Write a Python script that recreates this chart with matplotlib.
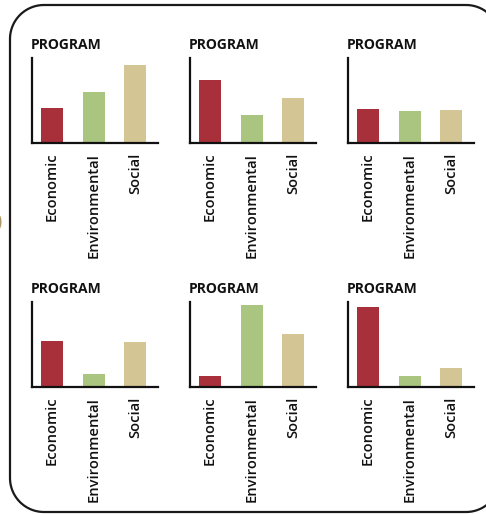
import matplotlib
matplotlib.use("Agg")
import numpy as np
import matplotlib.pyplot as plt
from matplotlib.patches import PathPatch, Ellipse
from matplotlib.path import Path

categories = ["Economic", "Environmental", "Social"]
panel_titles = ["PROGRAM"] * 6
values = [
    [41, 60, 92],
    [74, 33, 53],
    [40, 38, 39],
    [54, 15, 53],
    [13, 96, 62],
    [94, 13, 22],
]
colors = ["#A8303A", "#A9C57F", "#D4C594"]

W, H = 486, 514
fig = plt.figure(figsize=(W / 100, H / 100), dpi=100)
fig.patch.set_facecolor("white")

FONT = ["Open Sans", "DejaVu Sans"]


def rounded_rect(x0, y0, x1, y1, r, n=30):
    # pixel coords, y downward
    pts = []
    corners = [((x1 - r, y0 + r), -90, 0), ((x1 - r, y1 - r), 0, 90),
               ((x0 + r, y1 - r), 90, 180), ((x0 + r, y0 + r), 180, 270)]
    for (cx, cy), a0, a1 in corners:
        t = np.radians(np.linspace(a0, a1, n))
        pts.extend(zip(cx + r * np.cos(t), cy + r * np.sin(t)))
    pts.append(pts[0])
    pts = np.array(pts)
    pts[:, 0] /= W
    pts[:, 1] = 1 - pts[:, 1] / H
    return Path(pts)


border = PathPatch(rounded_rect(10, 5, 500, 512, 34), transform=fig.transFigure,
                   fill=False, edgecolor="#1a1a1a", linewidth=1.6, clip_on=False)
fig.patches.append(border)
fig.patches.append(Ellipse((-1 / W, 1 - 222 / H), 5 / W, 14 / H, transform=fig.transFigure,
                           facecolor="#8A6A2A", edgecolor="none", alpha=0.7))

lefts = [32, 190, 348]
bases = [143, 387]
aw, ah = 126, 85

for i, vals in enumerate(values):
    row, col = divmod(i, 3)
    x0 = lefts[col]
    yb = bases[row]
    ax = fig.add_axes([x0 / W, 1 - yb / H, aw / W, ah / H])
    ax.bar(range(len(categories)), vals, width=0.53, color=colors)
    ax.set_xlim(-0.48, 2.55)
    ax.set_ylim(0, 100)
    ax.set_xticks(range(len(categories)))
    ax.set_xticklabels(categories, rotation=90, fontsize=10.6, family=FONT,
                       fontweight="semibold", color="#111111")
    ax.tick_params(axis="x", length=0, pad=7)
    ax.set_yticks([])
    for s in ["top", "right"]:
        ax.spines[s].set_visible(False)
    for s in ["left", "bottom"]:
        ax.spines[s].set_linewidth(1.6)
        ax.spines[s].set_color("#111111")
    ax.patch.set_alpha(0)
    fig.text((x0 - 1) / W, 1 - (yb - ah - 9) / H, panel_titles[i], ha="left", va="baseline",
             fontsize=10, fontweight="bold", family=FONT, color="#111111")

fig.savefig("out.png", dpi=100)
